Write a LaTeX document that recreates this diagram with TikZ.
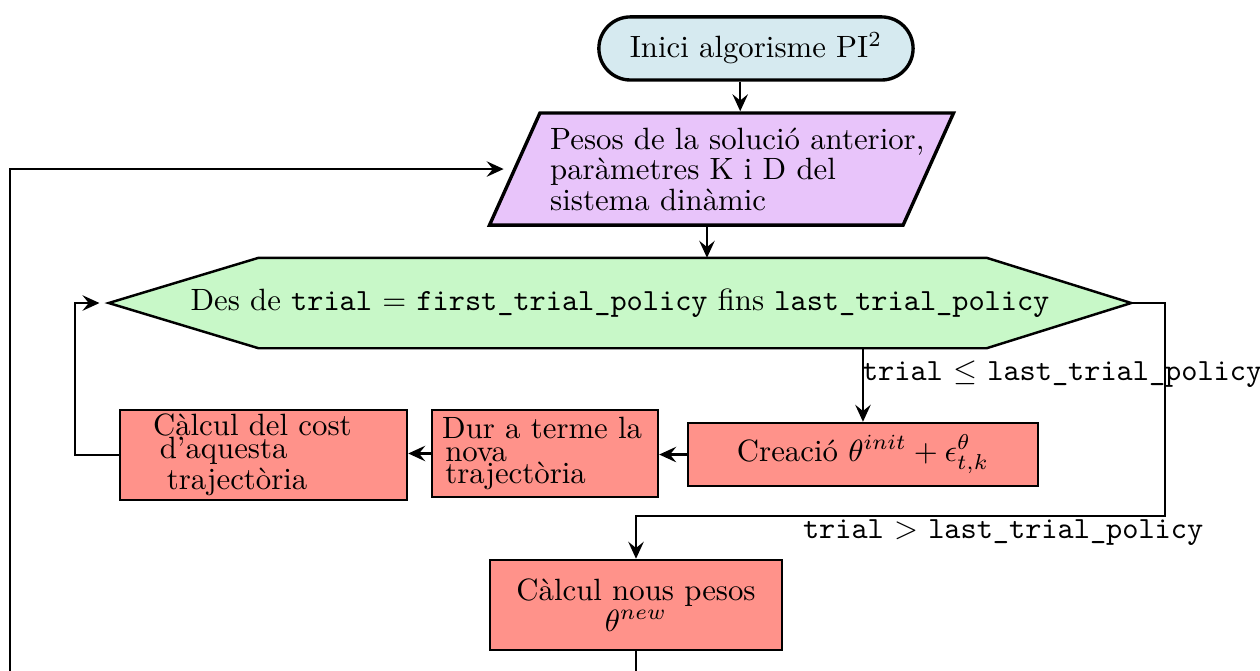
\documentclass[tikz,border=0pt]{standalone}
\usetikzlibrary{shapes.geometric,shapes.misc,backgrounds,arrows.meta}
\definecolor{iniblau}{HTML}{D6EAF0}
\definecolor{entlila}{HTML}{E8C4FA}
\definecolor{bucverd}{HTML}{C8F8C8}
\definecolor{procverm}{HTML}{FF928A}
\begin{document}
\begin{tikzpicture}[>={Stealth[length=5.5pt,width=5pt,inset=2pt]}, thick,
  inici/.style={rounded rectangle, draw, line width=1.1pt, fill=iniblau, minimum width=3.82cm, minimum height=0.72cm},
  entrada/.style={trapezium, trapezium left angle=64, trapezium right angle=116, trapezium stretches body, draw, line width=1.1pt, fill=entlila, minimum height=1.28cm, text width=3.91cm, align=left, font={\linespread{0.7}\selectfont}},
  bucle/.style={inner sep=0pt, minimum width=11.64cm, minimum height=1.004cm},
  proces/.style={rectangle, draw, fill=procverm, inner ysep=1pt, font={\linespread{0.62}\selectfont}},
  cond/.style={inner sep=1pt}]
\useasboundingbox (0,0) rectangle (14.379,-7.657);
\node[inici] (start) at (8.627,-0.553) {Inici algorisme PI$^2$};
\node[entrada] (pesos) at (8.234,-1.929) {\mbox{Pesos de la solució anterior,}\\ paràmetres K i D del\\ sistema dinàmic};
\node[bucle] (bucle) at (7.075,-3.458) {Des de \texttt{trial} $=$ \texttt{first\_trial\_policy} fins \texttt{last\_trial\_policy}};
\begin{scope}[on background layer]
\draw[thick, fill=bucverd] (bucle.west) -- ([xshift=1.71cm]bucle.north west) -- ([xshift=-1.65cm]bucle.north east) -- (bucle.east) -- ([xshift=-1.65cm]bucle.south east) -- ([xshift=1.71cm]bucle.south west) -- cycle;
\end{scope}
\node[proces, minimum width=3.994cm, minimum height=0.719cm] (creacio) at (9.848,-5.187) {Creació $\theta^{init}+\epsilon^{\theta}_{t,k}$};
\node[proces, text width=2.345cm, align=left, minimum height=0.993cm] (trajec) at (6.219,-5.175) {Dur a terme la\\ \hspace*{1pt}nova\\ \hspace*{1pt}trajectòria};
\node[proces, text width=3.041cm, align=left, minimum height=1.027cm] (cost) at (3.007,-5.192) {\hspace*{7.4pt}Càlcul del cost\\ \hspace*{9.6pt}d'aquesta\\ \hspace*{11.9pt}trajectòria};
\node[proces, minimum width=3.332cm, minimum height=1.027cm, align=center] (nous) at (7.258,-6.904) {Càlcul nous pesos\\ $\theta^{new}$};
\coordinate (torna) at (0.114,-8.5);
% fletxes
\draw[->] ([xshift=-0.18cm]start.south) -- ([xshift=-0.18cm]start.south |- pesos.north);
\draw[->] (pesos.south -| 8.068,0) -- (bucle.north -| 8.068,0);
\draw[->] (bucle.south -| creacio.north) -- (creacio.north) node[cond, pos=0.35, anchor=west, xshift=-0.06cm] {\texttt{trial} $\leq$ \texttt{last\_trial\_policy}};
\draw[->] (creacio.west) -- (creacio.west -| trajec.east);
\draw[->] (trajec.west) -- (trajec.west -| cost.east);
\draw[->, shorten >=3pt] (cost.west) -- ++(-0.5,0) |- (bucle.west);
\draw[->] (bucle.east) -- (13.294,-3.458) |- ([yshift=0.49cm]nous.north) node[cond, pos=0.653, below] {\texttt{trial} $>$ \texttt{last\_trial\_policy}} -- (nous.north);
\draw[->, shorten >=3pt] (nous.south) |- (torna) |- (pesos.west);
\end{tikzpicture}
\end{document}
